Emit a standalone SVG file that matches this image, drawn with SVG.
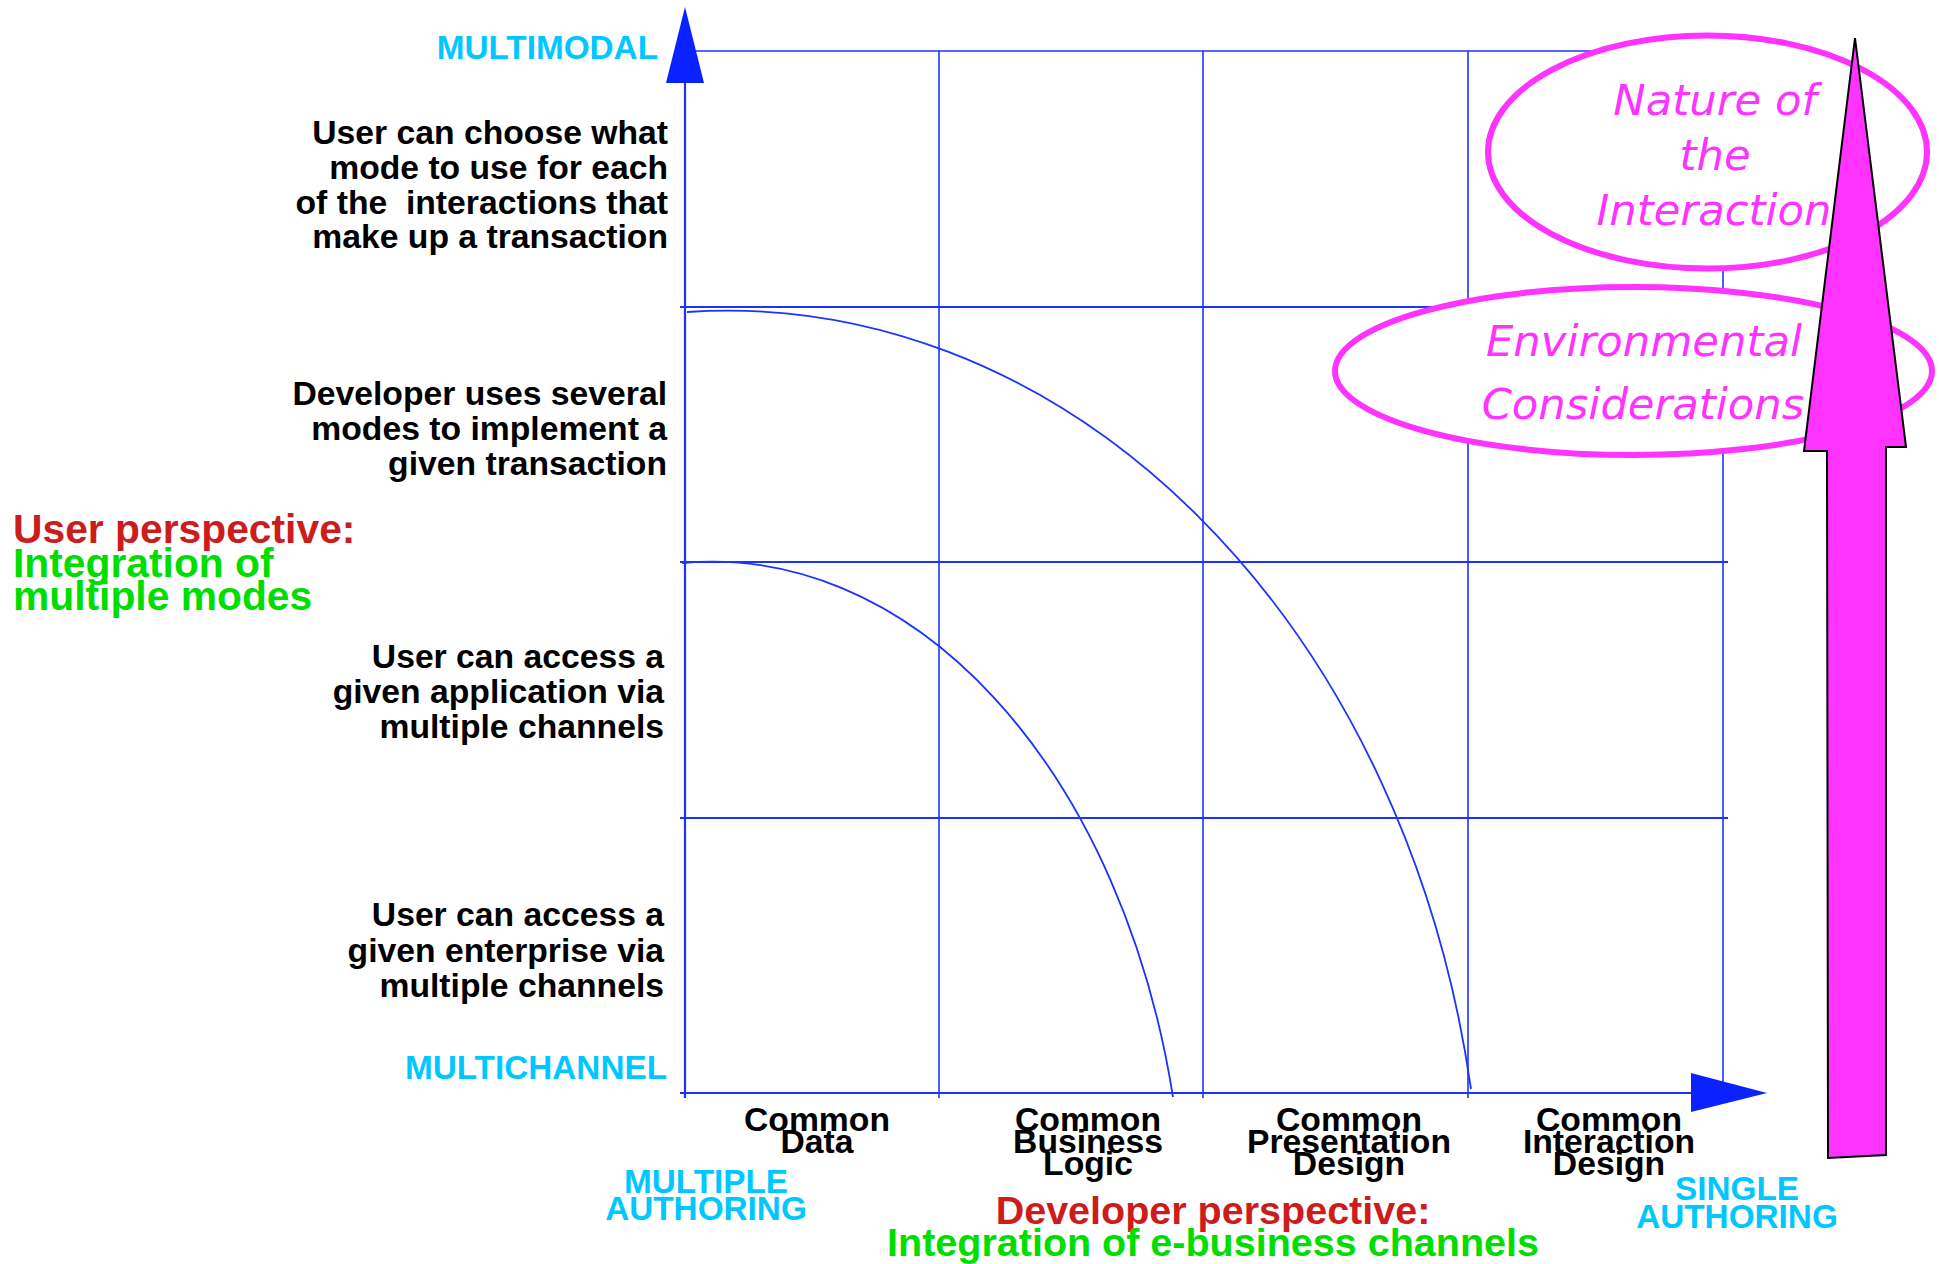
<svg xmlns="http://www.w3.org/2000/svg" width="1939" height="1264" viewBox="0 0 1939 1264">
<style>
.bg{fill:#ffffff}
.grid{stroke:#1a33ff;stroke-width:1.6;fill:none}
.gridh{stroke:#1a33ff;stroke-width:2.2;fill:none}
.curve{stroke:#1a33ff;stroke-width:1.8;fill:none}
.ahead{fill:#0a22ff;stroke:none}
.t{font-family:"Liberation Sans",Arial,Helvetica,sans-serif;font-weight:bold}
.blk{fill:#000000;font-size:33.7px}
.cyan{fill:#00c8ff;font-size:33.3px}
.red{fill:#cc1c1c;font-size:39.5px}
.green{fill:#00dd00;font-size:39.5px}
.big{font-size:40.8px}
.ell{fill:#ffffff;stroke:#ff33ff;stroke-width:6}
.it{font-family:"DejaVu Sans",Verdana,sans-serif;font-style:italic;font-size:43.3px;fill:#ff33ff}
</style>
<rect class="bg" x="0" y="0" width="1939" height="1264"/>

<g id="grid">
  <line class="grid" x1="685" y1="51" x2="1728" y2="51"/>
  <line class="gridh" x1="680" y1="307" x2="1728" y2="307"/>
  <line class="gridh" x1="680" y1="562" x2="1728" y2="562"/>
  <line class="gridh" x1="680" y1="818" x2="1728" y2="818"/>
  <line class="grid" x1="939" y1="51" x2="939" y2="1098"/>
  <line class="grid" x1="1203" y1="51" x2="1203" y2="1098"/>
  <line class="grid" x1="1468" y1="51" x2="1468" y2="1098"/>
  <line class="grid" x1="1723" y1="51" x2="1723" y2="1098"/>
</g>

<g id="connectors">
  <line class="gridh" x1="685" y1="80" x2="685" y2="1098"/>
  <polygon class="ahead" points="685,7 704,83 666,83"/>
  <line class="gridh" x1="680" y1="1093" x2="1695" y2="1093"/>
  <polygon class="ahead" points="1767,1093 1691,1073 1691,1112"/>
  <path class="curve" d="M687,312 A755,944 0 0 1 1471,1089"/>
  <path class="curve" d="M682,563 A473,691 0 0 1 1173,1097"/>
</g>

<g id="axis-labels">
  <text class="t cyan" x="658" y="59" text-anchor="end">MULTIMODAL</text>
  <text class="t cyan" x="667" y="1079" text-anchor="end">MULTICHANNEL</text>
  <text class="t cyan" x="706" y="1193" text-anchor="middle">MULTIPLE</text>
  <text class="t cyan" x="706" y="1220" text-anchor="middle">AUTHORING</text>
  <text class="t cyan" x="1737" y="1200" text-anchor="middle">SINGLE</text>
  <text class="t cyan" x="1737" y="1228" text-anchor="middle">AUTHORING</text>
</g>

<g id="level-multimodal-user">
  <text class="t blk" x="668" y="144" text-anchor="end">User can choose what</text>
  <text class="t blk" x="668" y="179" text-anchor="end">mode to use for each</text>
  <text class="t blk" x="668" y="213.5" text-anchor="end" xml:space="preserve" style="white-space:pre">of the  interactions that</text>
  <text class="t blk" x="668" y="248" text-anchor="end">make up a transaction</text>
</g>
<g id="level-multimodal-developer">
  <text class="t blk" x="667" y="405" text-anchor="end">Developer uses several</text>
  <text class="t blk" x="667" y="440" text-anchor="end">modes to implement a</text>
  <text class="t blk" x="667" y="475" text-anchor="end">given transaction</text>
</g>
<g id="level-application">
  <text class="t blk" x="664" y="667.5" text-anchor="end">User can access a</text>
  <text class="t blk" x="664" y="703" text-anchor="end">given application via</text>
  <text class="t blk" x="664" y="737.5" text-anchor="end">multiple channels</text>
</g>
<g id="level-enterprise">
  <text class="t blk" x="664" y="926" text-anchor="end">User can access a</text>
  <text class="t blk" x="664" y="962" text-anchor="end">given enterprise via</text>
  <text class="t blk" x="664" y="997" text-anchor="end">multiple channels</text>
</g>

<g id="user-perspective">
  <text class="t red big" x="13" y="543">User perspective:</text>
  <text class="t green big" x="13" y="577">Integration of</text>
  <text class="t green big" x="13" y="610">multiple modes</text>
</g>

<g id="col-common-data">
  <text class="t blk" x="817" y="1131" text-anchor="middle">Common</text>
  <text class="t blk" x="817" y="1153" text-anchor="middle">Data</text>
</g>
<g id="col-common-business-logic">
  <text class="t blk" x="1088" y="1131" text-anchor="middle">Common</text>
  <text class="t blk" x="1088" y="1153" text-anchor="middle">Business</text>
  <text class="t blk" x="1088" y="1175" text-anchor="middle">Logic</text>
</g>
<g id="col-common-presentation-design">
  <text class="t blk" x="1349" y="1131" text-anchor="middle">Common</text>
  <text class="t blk" x="1349" y="1153" text-anchor="middle">Presentation</text>
  <text class="t blk" x="1349" y="1175" text-anchor="middle">Design</text>
</g>
<g id="col-common-interaction-design">
  <text class="t blk" x="1609" y="1131" text-anchor="middle">Common</text>
  <text class="t blk" x="1609" y="1153" text-anchor="middle">Interaction</text>
  <text class="t blk" x="1609" y="1175" text-anchor="middle">Design</text>
</g>

<g id="developer-perspective">
  <text class="t red" x="1213" y="1224" text-anchor="middle">Developer perspective:</text>
  <text class="t green" x="1213" y="1256" text-anchor="middle">Integration of e-business channels</text>
</g>

<g id="nature-of-interaction">
  <ellipse class="ell" cx="1707.5" cy="152" rx="219.5" ry="116.5"/>
  <text class="it" x="1715" y="115" text-anchor="middle">Nature of</text>
  <text class="it" x="1715" y="170" text-anchor="middle">the</text>
  <text class="it" x="1714" y="225" text-anchor="middle">Interaction</text>
</g>
<g id="environmental-considerations">
  <ellipse class="ell" cx="1633.5" cy="371" rx="298.5" ry="84"/>
  <text class="it" x="1644" y="356" text-anchor="middle">Environmental</text>
  <text class="it" x="1643" y="419" text-anchor="middle">Considerations</text>
</g>

<g id="big-arrow">
  <polygon points="1855,38 1906,447 1886,447 1886,1155 1828,1158 1827,451 1804,451" fill="#ff33ff" stroke="#000000" stroke-width="2"/>
</g>
</svg>
